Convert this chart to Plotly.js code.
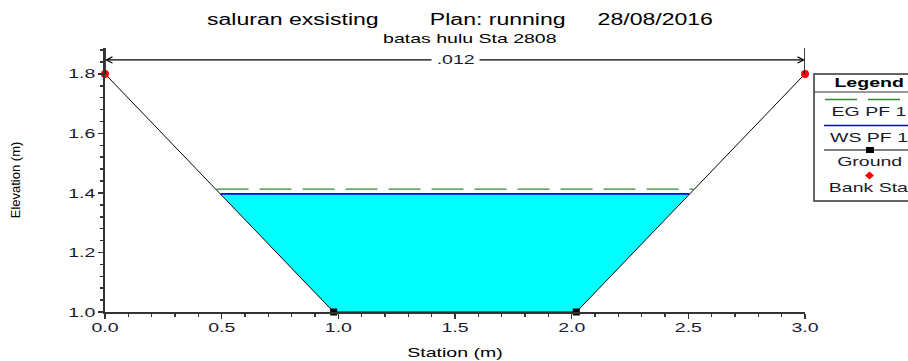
<!DOCTYPE html>
<html>
<head>
<meta charset="utf-8">
<script src="https://cdn.plot.ly/plotly-3.0.1.min.js"></script>
<style>
html,body{margin:0;padding:0;background:#fff;}
#chart{width:908px;height:361px;}
</style>
</head>
<body>
<div id="chart"></div>
<script>
// ---- data ----
const groundX = [0.00, 0.98, 2.02, 3.00];
const groundY = [1.80, 1.00, 1.00, 1.80];
const bankX = [0.00, 3.00];
const bankY = [1.80, 1.80];
const wsX = [0.496, 0.98, 2.02, 2.504];
const wsY = [1.397, 1.00, 1.00, 1.397];
const egX = [0.478, 2.522];
const egY = [1.413, 1.413];
const nLabel = ['.012'];
const nStations = [0.00, 3.00];
const xTickVals = [0, 0.5, 1.0, 1.5, 2.0, 2.5, 3.0];
const yTickVals = [1.0, 1.2, 1.4, 1.6, 1.8];
const legendNames = ['EG PF 1', 'WS PF 1', 'Ground', 'Bank Sta'];
const titleParts = ['saluran exsisting', 'Plan: running', '28/08/2016'];
const subTitle = 'batas hulu Sta 2808';

// ---- layout geometry ----
const L = 105, T = 48, W = 700, H = 264, FIG_W = 908, FIG_H = 361;
const yTop = 1.887;
const dimArrowY = 1.847;
const px = p => (p - L) / W;
const py = p => (T + H - p) / H;
const FONT = 'Liberation Sans, Arial, sans-serif';
const TXT = '#1a1a2e';
const AX = '#333333';

const nb = n => '\u00A0'.repeat(n);
const titleText = titleParts[0] + nb(8) + titleParts[1] + nb(5) + titleParts[2];

const innerIdx = groundX.map((v, i) => i).filter(i => !bankX.includes(groundX[i]));

const traces = [
  {x: wsX, y: wsY, mode: 'lines', fill: 'toself', fillcolor: '#00FFFF',
   line: {width: 0, color: '#00FFFF'}, hoverinfo: 'skip'},
  {x: [wsX[0], wsX[wsX.length - 1]], y: [wsY[0], wsY[wsY.length - 1]], mode: 'lines',
   line: {color: '#0000FF', width: 1.6}},
  {x: egX, y: egY, mode: 'lines', line: {color: '#2b8c2b', width: 1.4, dash: '32px,11px'}},
  {x: groundX, y: groundY, mode: 'lines', line: {color: '#000000', width: 1}},
  {x: innerIdx.map(i => groundX[i]), y: innerIdx.map(i => groundY[i]), mode: 'markers', cliponaxis: false,
   marker: {symbol: 'square', color: '#000000', size: 7, line: {width: 0}}},
  {x: bankX, y: bankY, mode: 'markers', cliponaxis: false,
   marker: {symbol: 'circle', color: '#FF0000', size: 8, line: {width: 0}}}
];

const shapes = [
  // vertical limit bars of the n-value dimension
  {type: 'line', xref: 'x', yref: 'y', x0: nStations[0], x1: nStations[0], y0: bankY[0], y1: yTop,
   line: {color: '#000', width: 1.5}},
  {type: 'line', xref: 'x', yref: 'y', x0: nStations[1], x1: nStations[1], y0: bankY[1], y1: yTop,
   line: {color: '#000', width: 1.5}},
  // legend box
  {type: 'rect', xref: 'paper', yref: 'paper', x0: px(814), x1: px(940), y0: py(201), y1: py(74),
   line: {color: '#333', width: 1.5}, fillcolor: '#fff', layer: 'above'},
  {type: 'line', xref: 'paper', yref: 'paper', x0: px(814), x1: px(940), y0: py(92), y1: py(92),
   line: {color: '#333', width: 1.2}, layer: 'above'},
  {type: 'line', xref: 'paper', yref: 'paper', x0: px(825), x1: px(940), y0: py(99.5), y1: py(99.5),
   line: {color: '#2b8c2b', width: 1.4, dash: '32px,11px'}, layer: 'above'},
  {type: 'line', xref: 'paper', yref: 'paper', x0: px(824), x1: px(940), y0: py(125.5), y1: py(125.5),
   line: {color: '#0000FF', width: 1.6}, layer: 'above'},
  {type: 'line', xref: 'paper', yref: 'paper', x0: px(824), x1: px(940), y0: py(150), y1: py(150),
   line: {color: '#000', width: 1}, layer: 'above'},
  {type: 'rect', xref: 'paper', yref: 'paper', x0: px(866), x1: px(874), y0: py(153), y1: py(147),
   line: {width: 0}, fillcolor: '#000', layer: 'above'},
  {type: 'path', xref: 'paper', yref: 'paper',
   path: `M ${px(865)} ${py(175.5)} L ${px(869.5)} ${py(171.5)} L ${px(874)} ${py(175.5)} L ${px(869.5)} ${py(179.5)} Z`,
   line: {width: 0}, fillcolor: '#FF0000', layer: 'above'}
];

const midN = (nStations[0] + nStations[1]) / 2;
const annotations = [
  {x: nStations[0], y: dimArrowY, ax: midN, ay: dimArrowY, axref: 'x', ayref: 'y', xref: 'x', yref: 'y',
   text: '', showarrow: true, arrowhead: 5, arrowsize: 1, arrowwidth: 1.2, arrowcolor: '#000',
   standoff: 0, startstandoff: 0},
  {x: nStations[1], y: dimArrowY, ax: midN, ay: dimArrowY, axref: 'x', ayref: 'y', xref: 'x', yref: 'y',
   text: '', showarrow: true, arrowhead: 5, arrowsize: 1, arrowwidth: 1.2, arrowcolor: '#000',
   standoff: 0, startstandoff: 0},
  {x: midN, y: dimArrowY, xref: 'x', yref: 'y', text: nLabel[0], showarrow: false,
   bgcolor: '#fff', borderpad: 11, font: {family: FONT, size: 13, color: TXT}},
  {x: px(469.5), y: py(38.5), xref: 'paper', yref: 'paper', text: subTitle, showarrow: false,
   xanchor: 'center', yanchor: 'middle', font: {family: FONT, size: 13, color: '#000'}},
  {x: px(869), y: py(82.5), xref: 'paper', yref: 'paper', text: '<b>Legend</b>', showarrow: false,
   xanchor: 'center', yanchor: 'middle', font: {family: FONT, size: 13, color: '#000'}}
];
const legendTextY = [111.5, 137, 161.5, 187.5];
legendNames.forEach((n, i) => annotations.push({
  x: px(869), y: py(legendTextY[i]), xref: 'paper', yref: 'paper', text: n, showarrow: false,
  xanchor: 'center', yanchor: 'middle', font: {family: FONT, size: 13, color: TXT}}));

const layout = {
  width: FIG_W, height: FIG_H,
  margin: {l: L, r: FIG_W - L - W, t: T, b: FIG_H - T - H, pad: 0},
  paper_bgcolor: '#fff', plot_bgcolor: '#fff',
  showlegend: false,
  font: {family: FONT, size: 13, color: TXT},
  title: {text: titleText, x: 460 / FIG_W, xref: 'container', xanchor: 'center',
          y: 1 - 19 / FIG_H, yref: 'container', yanchor: 'middle',
          font: {family: FONT, size: 16, color: '#000'}},
  xaxis: {range: [0, 3], tickvals: xTickVals, ticktext: xTickVals.map(v => v.toFixed(1)),
          showgrid: false, zeroline: false, showline: true, linecolor: AX, linewidth: 2,
          ticks: 'outside', ticklen: 5, tickwidth: 1.5, tickcolor: AX, ticklabelstandoff: -3,
          minor: {dtick: 0.1, tick0: 0, ticks: 'outside', ticklen: 3, tickwidth: 1.5, tickcolor: AX},
          tickfont: {family: FONT, size: 13, color: TXT},
          title: {text: 'Station (m)', standoff: 14, font: {family: FONT, size: 13, color: '#000'}}},
  yaxis: {range: [1.0, yTop], tickvals: yTickVals, ticktext: yTickVals.map(v => v.toFixed(1)),
          showgrid: false, zeroline: false, showline: true, linecolor: AX, linewidth: 2,
          ticks: 'outside', ticklen: 5, tickwidth: 1.5, tickcolor: AX,
          minor: {dtick: 0.04, tick0: 1.0, ticks: 'outside', ticklen: 3, tickwidth: 1.5, tickcolor: AX},
          tickfont: {family: FONT, size: 13, color: TXT},
          title: {text: 'Elevation (m)', standoff: 54, font: {family: FONT, size: 13, color: '#000'}}},
  shapes: shapes,
  annotations: annotations
};

const gd = document.getElementById('chart');
Plotly.newPlot(gd, traces, layout, {staticPlot: true, displayModeBar: false}).then(function () {
  // the reference image is horizontally stretched: widen the glyphs to match
  gd.querySelectorAll('text').forEach(function (t) {
    if (t.classList.contains('ytitle')) return;
    const isTitle = t.classList.contains('gtitle');
    const f = isTitle ? 1.44 : 1.5;
    const len = t.getComputedTextLength();
    if (len > 0) {
      t.setAttribute('textLength', (len * f).toFixed(2));
      t.setAttribute('lengthAdjust', 'spacingAndGlyphs');
    }
  });
});
</script>
</body>
</html>
